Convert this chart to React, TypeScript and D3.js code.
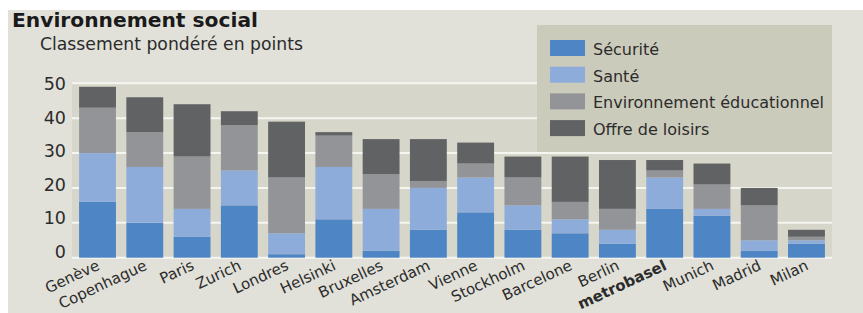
import React from "react";
import * as d3 from "d3";

const categories = ["Genève","Copenhague","Paris","Zurich","Londres","Helsinki","Bruxelles","Amsterdam","Vienne","Stockholm","Barcelone","Berlin","metrobasel","Munich","Madrid","Milan"];
const securite = [16,10,6,15,1,11,2,8,13,8,7,4,14,12,2,4];
const sante = [14,16,8,10,6,15,12,12,10,7,4,4,9,2,3,1];
const environnement = [13,10,15,13,16,9,10,2,4,8,5,6,2,7,10,1];
const loisirs = [6,10,15,4,16,1,10,12,6,6,13,14,3,6,5,2];
const seriesNames = ["Sécurité","Santé","Environnement éducationnel","Offre de loisirs"];
const seriesKeys = ["securite","sante","environnement","loisirs"];
const colors = ["#4d85c5","#8eacda","#939498","#616264"];
const yTicks = [0,10,20,30,40,50];

const W = 863, H = 313;
const plotL = 72, plotR = 832, plotT = 83.3, plotB = 257.7;
const FONT = "'DejaVu Sans', sans-serif";

export default function App() {
  const rows = categories.map((c, i) => ({
    cat: c, securite: securite[i], sante: sante[i], environnement: environnement[i], loisirs: loisirs[i],
  }));
  const stack = d3.stack<any>().keys(seriesKeys)(rows);
  const x = d3.scaleBand().domain(categories).range([plotL, plotR]).paddingInner(0.22).paddingOuter(0.15);
  const y = d3.scaleLinear().domain([0, 50]).range([plotB, plotT]);
  const yLab = d3.scaleLinear().domain([0, 50]).range([251.5, 84]);

  return (
    <svg width={W} height={H} style={{ position: "absolute", left: 0, top: 0 }} fontFamily={FONT}>
      <rect x={0} y={0} width={W} height={H} fill="#ffffff" />
      <rect x={8} y={10} width={W - 8} height={H - 10} fill="#e1e1d9" />
      <rect x={plotL} y={plotT} width={plotR - plotL} height={plotB - plotT} fill="#d6d6ca" />
      {yTicks.map((t) => (
        <line key={t} x1={plotL} x2={plotR} y1={y(t)} y2={y(t)} stroke="#f6f6f1" strokeWidth={2} />
      ))}
      {stack.map((s, si) =>
        s.map((d: any, i: number) => (
          <rect key={si + "-" + i} x={x(categories[i])} width={x.bandwidth()} y={y(d[1])} height={y(d[0]) - y(d[1])} fill={colors[si]} />
        ))
      )}
      {yTicks.map((t) => (
        <text key={"l" + t} x={66} y={yLab(t)} dy="0.36em" textAnchor="end" fontSize={17.5} fill="#2b2b2b">{t}</text>
      ))}
      {categories.map((c) => {
        const cx = (x(c) as number) + x.bandwidth() / 2 + 3;
        const cy = 269;
        return (
          <text key={"c" + c} x={cx} y={cy} transform={`rotate(-25 ${cx} ${cy})`} textAnchor="end" fontSize={15}
            fontWeight={c === "metrobasel" ? "bold" : "normal"} fill="#2b2b2b">{c}</text>
        );
      })}
      <rect x={537} y={25} width={295} height={127} fill="#cbcbbc" />
      {seriesNames.map((n, i) => (
        <g key={n}>
          <rect x={550} y={40 + i * 26.7} width={35} height={16} fill={colors[i]} />
          <text x={593} y={55 + i * 26.7} fontSize={16} fill="#2b2b2b">{n}</text>
        </g>
      ))}
      <text x={12} y={27} fontSize={20} fontWeight="bold" fill="#1a1a1a" textLength={246} lengthAdjust="spacingAndGlyphs">Environnement social</text>
      <text x={40} y={50} fontSize={17} fill="#2b2b2b" textLength={263} lengthAdjust="spacingAndGlyphs">Classement pondéré en points</text>
    </svg>
  );
}
